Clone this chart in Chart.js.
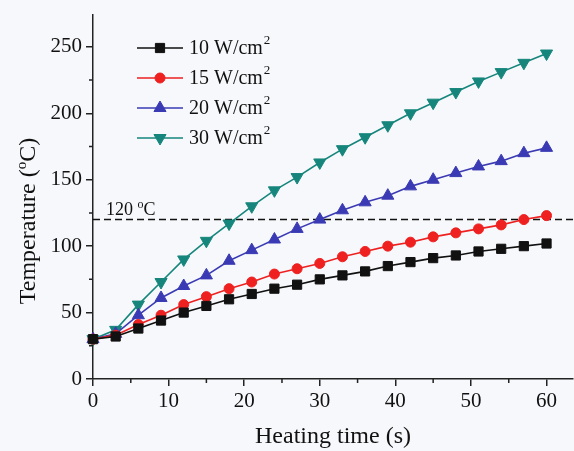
<!DOCTYPE html>
<html>
<head>
<meta charset="utf-8">
<script src="https://cdn.jsdelivr.net/npm/chart.js@4/dist/chart.umd.min.js"></script>
<style>
  html, body { margin: 0; padding: 0; background: #f7f8fb; }
  #wrap { width: 574px; height: 451px; }
</style>
</head>
<body>
<div id="wrap"><canvas id="chart"></canvas></div>
<script>
document.addEventListener("DOMContentLoaded", () => {

const SERIF = "'Liberation Serif', 'Times New Roman', serif";

// heating time (s)
const times = [0, 3, 6, 9, 12, 15, 18, 21, 24, 27, 30, 33, 36, 39, 42, 45, 48, 51, 54, 57, 60];

// temperature (C) for each heat flux
const temp10 = [30, 32, 38, 44, 50, 55, 60, 64, 68, 71, 75, 78, 81, 85, 88, 91, 93, 96, 98, 100, 102];
const temp15 = [30, 33, 41, 48, 56, 62, 68, 73, 79, 83, 87, 92, 96, 100, 103, 107, 110, 113, 116, 120, 123];
const temp20 = [30, 34, 48, 61, 70, 78, 89, 97, 105, 113, 120, 127, 133, 138, 145, 150, 155, 160, 164, 170, 174];
const temp30 = [30, 37, 56, 73, 90, 104, 117, 130, 142, 152, 163, 173, 182, 191, 200, 208, 216, 224, 231, 238, 245];

const fluxLabels = ["10", "15", "20", "30"];
const xTicks = [0, 10, 20, 30, 40, 50, 60];
const xMinor = [5, 15, 25, 35, 45, 55];
const yTicks = [0, 50, 100, 150, 200, 250];
const yMinor = [25, 75, 125, 175, 225];
const limitTemp = 120;

const toPoints = arr => arr.map((v, i) => ({x: times[i], y: v}));

function series(label, data, color, style, rotation, radius){
  return {
    label: label,
    data: toPoints(data),
    borderColor: color,
    backgroundColor: color,
    borderWidth: 1.6,
    pointStyle: style,
    rotation: rotation,
    pointRadius: radius,
    pointBorderWidth: 1,
    tension: 0,
    clip: false
  };
}

const datasets = [
  series(fluxLabels[0], temp10, "#111111", "rect", 0, 6.5),
  series(fluxLabels[1], temp15, "#ee2020", "circle", 0, 5),
  series(fluxLabels[2], temp20, "#3a3ab4", "triangle", 0, 7),
  series(fluxLabels[3], temp30, "#16867c", "triangle", 180, 7)
];

// dashed 120 C line with its label
const limitLine = {
  id: "limitLine",
  beforeDatasetsDraw(chart){
    const {ctx, chartArea, scales} = chart;
    const y = scales.y.getPixelForValue(limitTemp);
    ctx.save();
    ctx.strokeStyle = "#111";
    ctx.lineWidth = 1.5;
    ctx.setLineDash([7, 4]);
    ctx.beginPath();
    ctx.moveTo(chartArea.left, y);
    ctx.lineTo(chartArea.right, y);
    ctx.stroke();
    ctx.setLineDash([]);
    ctx.fillStyle = "#111";
    ctx.textBaseline = "alphabetic";
    ctx.font = "18px " + SERIF;
    const x0 = chartArea.left + 13;
    ctx.fillText("120", x0, y - 5);
    let w = ctx.measureText("120 ").width;
    ctx.font = "12px " + SERIF;
    ctx.fillText("o", x0 + w, y - 12);
    w += ctx.measureText("o").width;
    ctx.font = "18px " + SERIF;
    ctx.fillText("C", x0 + w, y - 5);
    ctx.restore();
  }
};

// minor ticks, y title and inset legend
const extras = {
  id: "extras",
  afterDraw(chart){
    const {ctx, chartArea, scales} = chart;
    ctx.save();
    ctx.strokeStyle = "#222";
    ctx.lineWidth = 1.5;
    ctx.beginPath();
    xMinor.forEach(v => {
      const x = scales.x.getPixelForValue(v);
      ctx.moveTo(x, chartArea.bottom);
      ctx.lineTo(x, chartArea.bottom + 4);
    });
    yMinor.forEach(v => {
      const y = scales.y.getPixelForValue(v);
      ctx.moveTo(chartArea.left, y);
      ctx.lineTo(chartArea.left - 4, y);
    });
    ctx.stroke();

    // y axis title with superscript o
    ctx.fillStyle = "#111";
    ctx.translate(35, 221);
    ctx.rotate(-Math.PI / 2);
    ctx.textBaseline = "alphabetic";
    const big = "24px " + SERIF, small = "15px " + SERIF;
    ctx.font = big;
    const a = "Temperature (", c = "C)";
    const wa = ctx.measureText(a).width, wc = ctx.measureText(c).width;
    ctx.font = small;
    const wo = ctx.measureText("o").width;
    let x = -(wa + wo + wc) / 2;
    ctx.font = big;
    ctx.fillText(a, x, 0);
    x += wa;
    ctx.font = small;
    ctx.fillText("o", x, -9);
    x += wo;
    ctx.font = big;
    ctx.fillText(c, x, 0);
    ctx.setTransform(1, 0, 0, 1, 0, 0);

    // legend
    chart.data.datasets.forEach((ds, i) => {
      const y = 48 + i * 30;
      ctx.strokeStyle = ds.borderColor;
      ctx.fillStyle = ds.backgroundColor;
      ctx.lineWidth = 1.6;
      ctx.beginPath();
      ctx.moveTo(137, y);
      ctx.lineTo(183, y);
      ctx.stroke();
      ctx.lineWidth = 1;
      Chart.helpers.drawPoint(ctx, {
        pointStyle: ds.pointStyle,
        rotation: ds.rotation,
        radius: ds.pointRadius,
        borderWidth: 1
      }, 160, y);
      ctx.fillStyle = "#111";
      ctx.font = "20px " + SERIF;
      ctx.textBaseline = "middle";
      const txt = ds.label + " W/cm";
      ctx.fillText(txt, 189, y + 1);
      const tw = ctx.measureText(txt).width;
      ctx.font = "13px " + SERIF;
      ctx.fillText("2", 189 + tw + 1, y - 7);
    });
    ctx.restore();
  }
};

new Chart(document.getElementById("chart"), {
  type: "line",
  data: { datasets: datasets },
  options: {
    responsive: true,
    maintainAspectRatio: false,
    animation: false,
    layout: { autoPadding: false, padding: { top: 15, right: 1, left: 0, bottom: 0 } },
    plugins: {
      legend: { display: false },
      tooltip: { enabled: false }
    },
    scales: {
      x: {
        type: "linear",
        min: 0,
        max: 63.5,
        afterBuildTicks: s => { s.ticks = xTicks.map(v => ({value: v})); },
        afterFit: s => { s.height = 72; s.paddingLeft = 0; s.paddingRight = 0; },
        border: { display: true, color: "#222", width: 1.5 },
        grid: { drawOnChartArea: false, drawTicks: true, tickLength: 7, color: "#222", lineWidth: 1.5 },
        ticks: { color: "#111", font: { size: 21, family: SERIF }, padding: 3, maxRotation: 0 },
        title: { display: true, text: "Heating time (s)", color: "#111", font: { size: 24, family: SERIF }, padding: { top: 0, bottom: 0 } }
      },
      y: {
        min: 0,
        max: 274,
        afterBuildTicks: s => { s.ticks = yTicks.map(v => ({value: v})); },
        afterFit: s => { s.width = 93; s.paddingTop = 0; s.paddingBottom = 0; },
        border: { display: true, color: "#222", width: 1.5 },
        grid: { drawOnChartArea: false, drawTicks: true, tickLength: 7, color: "#222", lineWidth: 1.5 },
        ticks: { color: "#111", font: { size: 21, family: SERIF }, padding: 4 }
      }
    }
  },
  plugins: [limitLine, extras]
});

});
</script>
</body>
</html>
